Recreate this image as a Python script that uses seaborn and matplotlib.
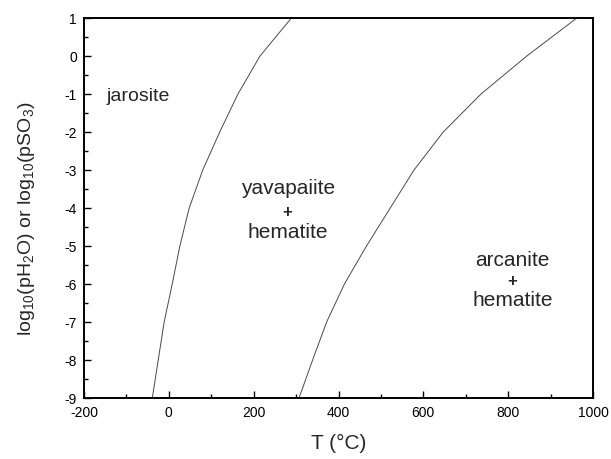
import matplotlib
matplotlib.use("Agg")
import matplotlib.pyplot as plt
import seaborn as sns
import pandas as pd
from matplotlib.ticker import MultipleLocator

# log10 pressure levels (y) and boundary temperatures (°C)
log_p = [1, 0, -1, -2, -3, -4, -5, -6, -7, -8, -9]
t_jarosite_yavapaiite = [289, 215, 163, 120, 80, 48, 26, 8, -11, -25, -39]
t_yavapaiite_arcanite = [962, 844, 736, 647, 578, 522, 466, 414, 372, 339, 307]

region_labels = ["jarosite", "yavapaiite", "hematite", "arcanite", "hematite"]

sns.set_theme(style="white")
plt.rcParams['font.family'] = ['Liberation Sans', 'DejaVu Sans']
plt.rcParams['axes.unicode_minus'] = False

fig = plt.figure(figsize=(6.11, 4.60), dpi=100)
ax = fig.add_axes([84/611, 1-399/460, (593-84)/611, (399-19)/460])

df1 = pd.DataFrame({"T": t_jarosite_yavapaiite, "y": log_p})
df2 = pd.DataFrame({"T": t_yavapaiite_arcanite, "y": log_p})
for d in (df1, df2):
    sns.lineplot(data=d, x="T", y="y", sort=False, estimator=None, ax=ax,
                 color="#4a4a4a", linewidth=0.7)

ax.set_xlim(-200, 1000)
ax.set_ylim(-9, 1)
ax.xaxis.set_major_locator(MultipleLocator(200))
ax.xaxis.set_minor_locator(MultipleLocator(100))
ax.yaxis.set_major_locator(MultipleLocator(1))
ax.yaxis.set_minor_locator(MultipleLocator(0.5))
ax.tick_params(which="both", direction="in", bottom=True, left=True,
               top=False, right=False, colors="black", labelsize=10, pad=5)
ax.tick_params(which="major", length=5, width=1)
ax.tick_params(which="minor", length=3, width=1)
for s in ax.spines.values():
    s.set_color("black")
    s.set_linewidth(1.4)

ax.set_xlabel("T (°C)", fontsize=15, labelpad=10)
ax.set_ylabel(r"log$_\mathregular{10}$(pH$_\mathregular{2}$O) or log$_\mathregular{10}$(pSO$_\mathregular{3}$)",
              fontsize=14)
ax.yaxis.set_label_coords(-0.092, 0.475)

fs = 15
ax.text(-73, -1.05, region_labels[0], ha="center", va="center", fontsize=14)
ax.text(280, -3.45, region_labels[1], ha="center", va="center", fontsize=fs)
ax.text(280, -4.08, "+", ha="center", va="center", fontsize=12, fontweight="bold")
ax.text(280, -4.62, region_labels[2], ha="center", va="center", fontsize=fs)
ax.text(810, -5.35, region_labels[3], ha="center", va="center", fontsize=fs)
ax.text(810, -5.9, "+", ha="center", va="center", fontsize=12, fontweight="bold")
ax.text(810, -6.42, region_labels[4], ha="center", va="center", fontsize=fs)

fig.savefig("out.png", dpi=100)
